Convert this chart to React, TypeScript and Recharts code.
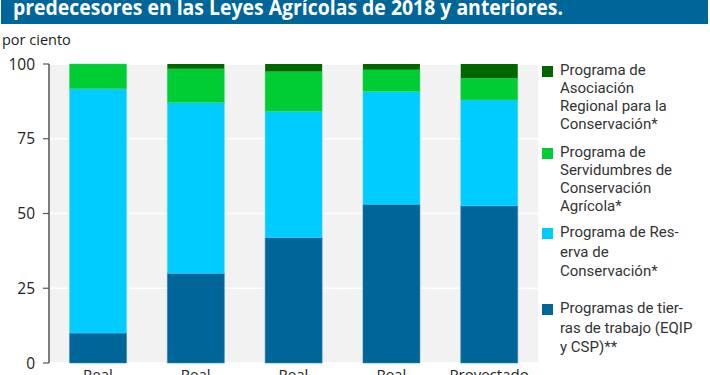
import React from 'react';
import { BarChart, Bar, XAxis, YAxis, CartesianGrid } from 'recharts';

const categories = ['Real', 'Real', 'Real', 'Real', 'Proyectado'];
const workingLands = [10, 30, 42, 53.1, 52.6];
const reserve = [81.7, 57.1, 42.2, 37.7, 35.4];
const easements = [8.3, 11.3, 13.3, 7.3, 7.2];
const regional = [0, 1.6, 2.5, 1.9, 4.8];
const yTicks = [0, 25, 50, 75, 100];

const titleText = 'predecesores en las Leyes Agrícolas de 2018 y anteriores.';
const unitLabel = 'por ciento';

const seriesNames = ['regional', 'easements', 'reserve', 'working'];
const legendLines = [
  ['Programa de', 'Asociación', 'Regional para la', 'Conservación*'],
  ['Programa de', 'Servidumbres de', 'Conservación', 'Agrícola*'],
  ['Programa de Res-', 'erva de', 'Conservación*'],
  ['Programas de tier-', 'ras de trabajo (EQIP', 'y CSP)**'],
];

const colors: Record<string, string> = {
  working: '#006699',
  reserve: '#00ccff',
  easements: '#00cc33',
  regional: '#006600',
};

const data = categories.map((cat, i) => ({
  cat,
  pos: i + 0.5,
  working: workingLands[i],
  reserve: reserve[i],
  easements: easements[i],
  regional: regional[i],
}));

const FONT = '"Open Sans", "Noto Sans", sans-serif';
const LEGEND_FONT = 'Roboto, "Open Sans", sans-serif';
const legendTops = [61, 143, 223, 299];
const legendLineHeights = [18, 18, 19.5, 19.5];

export default function App() {
  return (
    <div style={{ position: 'absolute', left: 0, top: 0, width: 710, height: 375, overflow: 'hidden', background: '#fff', fontFamily: FONT }}>
      <svg width={710} height={26} style={{ position: 'absolute', left: 0, top: 0 }}>
        <rect x={1} y={0} width={707} height={24} fill="#006699" />
        <text x={13} y={15} fill="#fff" fontSize={22} fontWeight={700} fontFamily={FONT} textLength={550} lengthAdjust="spacingAndGlyphs">
          {titleText}
        </text>
      </svg>
      <div style={{ position: 'absolute', left: 2, top: 31, fontSize: 14.5, color: '#222', lineHeight: '18px' }}>{unitLabel}</div>
      <div style={{ position: 'absolute', left: 0, top: 0 }}>
        <BarChart width={710} height={375} data={data} margin={{ top: 64, right: 172, bottom: 0, left: 0 }} barCategoryGap="21%">
          <CartesianGrid vertical={false} fill="#f2f2f2" stroke="#ffffff" strokeWidth={1.5} xAxisId="cat" />
          <XAxis
            xAxisId="edges"
            type="number"
            dataKey="pos"
            domain={[0, 5]}
            ticks={[0, 1, 2, 3, 4, 5]}
            height={0}
            tick={false}
            tickSize={5}
            axisLine={{ stroke: '#555', strokeWidth: 1.5 }}
            tickLine={{ stroke: '#555', strokeWidth: 1.2 }}
          />
          <XAxis
            xAxisId="cat"
            dataKey="cat"
            height={12}
            interval={0}
            axisLine={false}
            tickLine={false}
            tickSize={0}
            tickMargin={6}
            tick={{ fill: '#222', fontSize: 15, fontFamily: FONT }}
          />
          <YAxis
            width={49}
            domain={[0, 100]}
            ticks={yTicks}
            interval={0}
            tickSize={6}
            tickMargin={8}
            axisLine={{ stroke: '#555', strokeWidth: 1.5 }}
            tickLine={{ stroke: '#555', strokeWidth: 1.2 }}
            tick={{ fill: '#222', fontSize: 15.5, fontFamily: FONT }}
          />
          <Bar xAxisId="cat" dataKey="working" stackId="a" fill={colors.working} stroke="#2a85b5" strokeWidth={0.5} isAnimationActive={false} />
          <Bar xAxisId="cat" dataKey="reserve" stackId="a" fill={colors.reserve} stroke="#40d8ff" strokeWidth={0.5} isAnimationActive={false} />
          <Bar xAxisId="cat" dataKey="easements" stackId="a" fill={colors.easements} stroke="#30d860" strokeWidth={0.5} isAnimationActive={false} />
          <Bar xAxisId="cat" dataKey="regional" stackId="a" fill={colors.regional} isAnimationActive={false} />
        </BarChart>
      </div>
      {seriesNames.map((key, i) => (
        <div key={key} style={{ position: 'absolute', left: 542, top: legendTops[i], width: 168 }}>
          <div style={{ position: 'absolute', left: 0, top: (legendLineHeights[i] - 11) / 2 + 1, width: 11, height: 11, background: colors[key] }} />
          <div style={{ position: 'absolute', left: 18, top: 0, fontSize: 15, fontFamily: LEGEND_FONT, color: '#333', lineHeight: legendLineHeights[i] + 'px', whiteSpace: 'nowrap' }}>
            {legendLines[i].map((ln, j) => (
              <div key={j}>{ln}</div>
            ))}
          </div>
        </div>
      ))}
    </div>
  );
}
